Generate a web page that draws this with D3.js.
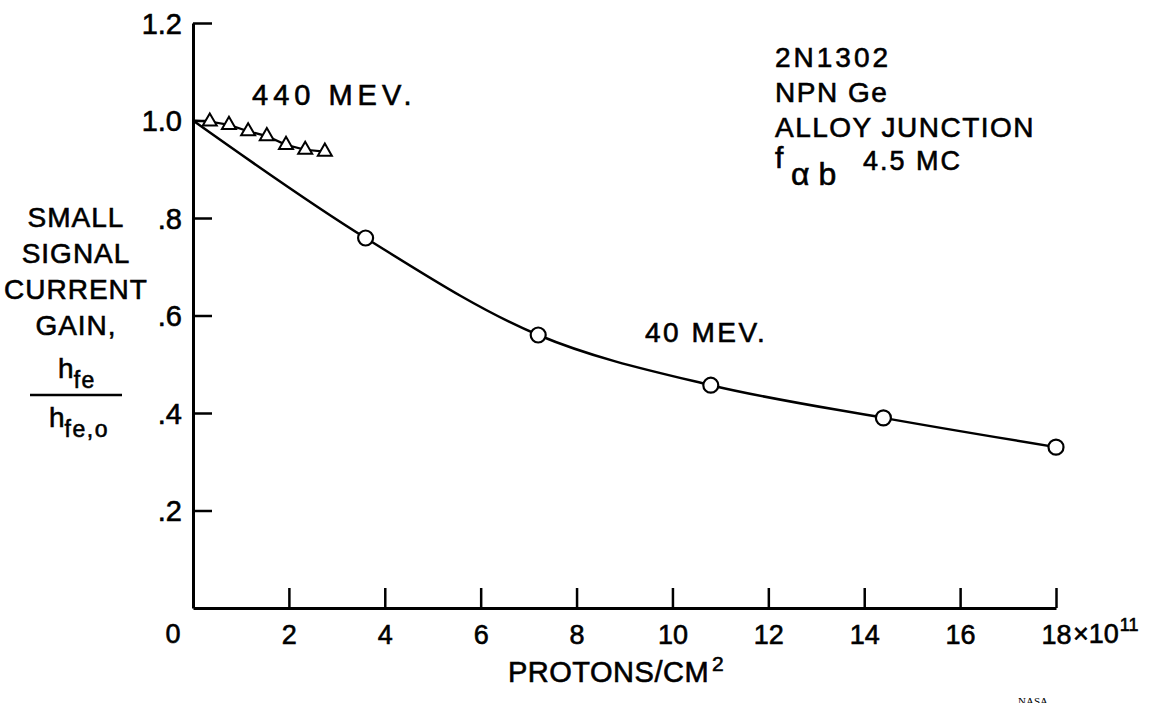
<!DOCTYPE html>
<html>
<head>
<meta charset="utf-8">
<script src="https://cdn.jsdelivr.net/npm/d3@7"></script>
<style>
  body { margin: 0; background: #fff; }
  svg { display: block; }
  text { font-family: "Liberation Sans", Arial, sans-serif; fill: #000; stroke: #000; stroke-width: 0.6px; }
</style>
</head>
<body>
<div id="chart-area"></div>
<script>
// 2N1302 small signal current gain vs proton fluence

var yTicks = [0.2, 0.4, 0.6, 0.8, 1.0, 1.2];
var yTickLabels = [".2", ".4", ".6", ".8", "1.0", "1.2"];
var xTicks = [2, 4, 6, 8, 10, 12, 14, 16, 18];
var xTickLabels = ["2", "4", "6", "8", "10", "12", "14", "16", "18"];

// curves start from the unirradiated point
var startPoint = [0, 1.0];

// 40 MeV (circles)
var mev40Flux = [3.6, 7.2, 10.8, 14.4, 18];
var mev40Gain = [0.759, 0.56, 0.457, 0.39, 0.33];

// 440 MeV (triangles)
var mev440Flux = [0.35, 0.75, 1.15, 1.54, 1.94, 2.34, 2.75];
var mev440Gain = [0.998, 0.991, 0.978, 0.968, 0.95, 0.94, 0.936];

var yLabelLines = ["SMALL", "SIGNAL", "CURRENT", "GAIN,"];
var noteLines = ["2N1302", "NPN Ge", "ALLOY JUNCTION"];

var margin = {top: 23, right: 105, bottom: 95, left: 193};
var width = 1161 - margin.left - margin.right;
var height = 703 - margin.top - margin.bottom;

var svg = d3.select("#chart-area")
    .append("svg")
    .attr("width", 1161)
    .attr("height", 703);

var g = svg.append("g")
    .attr("transform", "translate(" + margin.left + ", " + margin.top + ")");

var x = d3.scaleLinear().domain([0, 18]).range([0, width]);
var y = d3.scaleLinear().domain([0, 1.2]).range([height, 0]);

// left axis, ticks pointing inward
var yAxisCall = d3.axisLeft(y)
    .tickValues(yTicks)
    .tickSize(-19)
    .tickSizeOuter(0)
    .tickPadding(11)
    .tickFormat((d, i) => yTickLabels[i]);

var yAxis = g.append("g").attr("class", "left axis").call(yAxisCall);
yAxis.select(".domain").attr("stroke", "#000").attr("stroke-width", 3);
yAxis.selectAll(".tick line").attr("stroke", "#000").attr("stroke-width", 2.5);
yAxis.selectAll(".tick text")
    .attr("font-size", "29px")
    .attr("font-family", "Liberation Sans, Arial, sans-serif")
    .attr("dy", "0.36em");

// bottom axis
var xAxisCall = d3.axisBottom(x)
    .tickValues(xTicks)
    .tickSize(-20)
    .tickSizeOuter(0)
    .tickPadding(17)
    .tickFormat((d, i) => xTickLabels[i]);

var xAxis = g.append("g")
    .attr("class", "bottom axis")
    .attr("transform", "translate(0, " + height + ")")
    .call(xAxisCall);
xAxis.select(".domain").attr("stroke", "#000").attr("stroke-width", 3);
xAxis.selectAll(".tick line").attr("stroke", "#000").attr("stroke-width", 2.5);
xAxis.selectAll(".tick text")
    .attr("font-size", "27px")
    .attr("font-family", "Liberation Sans, Arial, sans-serif")
    .attr("dy", "0.71em");

// the shared zero
g.append("text")
    .attr("x", x(0) - 20)
    .attr("y", height + 35)
    .attr("font-size", "27px")
    .attr("text-anchor", "middle")
    .text("0");

// exponent after 18
var expo = g.append("text")
    .attr("x", x(18) + 17)
    .attr("y", height + 35)
    .attr("font-size", "27px");
expo.append("tspan").text("\u00d710");
expo.append("tspan").attr("font-size", "18px").attr("dy", "-12").attr("dx", 1).text("11");

// curves
var line = d3.line()
    .x((d) => x(d[0]))
    .y((d) => y(d[1]))
    .curve(d3.curveCatmullRom.alpha(0.5));

var mev40 = [startPoint].concat(mev40Flux.map((f, i) => [f, mev40Gain[i]]));
var mev440 = [startPoint].concat(mev440Flux.map((f, i) => [f, mev440Gain[i]]));

g.append("path")
    .datum(mev40)
    .attr("d", line)
    .attr("fill", "none")
    .attr("stroke", "#000")
    .attr("stroke-width", 2.5);

g.append("path")
    .datum(mev440)
    .attr("d", d3.line().x((d) => x(d[0])).y((d) => y(d[1])))
    .attr("fill", "none")
    .attr("stroke", "#000")
    .attr("stroke-width", 2.2);

g.selectAll("circle.m40")
    .data(mev40.slice(1))
    .enter()
    .append("circle")
        .attr("class", "m40")
        .attr("cx", (d) => x(d[0]))
        .attr("cy", (d) => y(d[1]))
        .attr("r", 7.5)
        .attr("fill", "#fff")
        .attr("stroke", "#000")
        .attr("stroke-width", 2.2);

g.selectAll("path.m440")
    .data(mev440.slice(1))
    .enter()
    .append("path")
        .attr("class", "m440")
        .attr("d", d3.symbol(d3.symbolTriangle, 85))
        .attr("transform", (d) => "translate(" + x(d[0]) + "," + y(d[1]) + ")")
        .attr("fill", "#fff")
        .attr("stroke", "#000")
        .attr("stroke-width", 2);

// curve labels
g.append("text")
    .attr("x", 59)
    .attr("y", 82)
    .attr("font-size", "29px")
    .attr("letter-spacing", "5px")
    .text("440 MEV.");

g.append("text")
    .attr("x", 452)
    .attr("y", 319)
    .attr("font-size", "28px")
    .attr("letter-spacing", "2.5px")
    .text("40 MEV.");

// device note, top right
var note = svg.append("g").attr("transform", "translate(775, 0)");
noteLines.forEach((t, i) => {
    note.append("text")
        .attr("x", 0)
        .attr("y", 67 + i * 35)
        .attr("font-size", "28px")
        .attr("letter-spacing", (i === 0) ? "3px" : "1.5px")
        .text(t);
});
note.append("text").attr("x", 0).attr("y", 168).attr("font-size", "30px").text("f");
note.append("text").attr("x", 16).attr("y", 185).attr("font-size", "32px")
    .attr("letter-spacing", "9px").text("\u03b1b");
note.append("text").attr("x", 88).attr("y", 170).attr("font-size", "27px")
    .attr("letter-spacing", "2px").text("4.5 MC");

// y axis label
var yl = svg.append("g").attr("class", "y axis-label");
yLabelLines.forEach((t, i) => {
    yl.append("text")
        .attr("x", 76)
        .attr("y", 227 + i * 36)
        .attr("font-size", "28px")
        .attr("text-anchor", "middle")
        .attr("letter-spacing", "1px")
        .text(t);
});
var num = yl.append("text").attr("x", 77).attr("y", 378).attr("text-anchor", "middle");
num.append("tspan").attr("font-size", "28px").text("h");
num.append("tspan").attr("font-size", "23px").attr("dy", 10).attr("letter-spacing", "1.5px").text("fe");
yl.append("line")
    .attr("x1", 30).attr("x2", 122)
    .attr("y1", 395).attr("y2", 395)
    .attr("stroke", "#000").attr("stroke-width", 2.5);
var den = yl.append("text").attr("x", 79).attr("y", 427).attr("text-anchor", "middle");
den.append("tspan").attr("font-size", "28px").text("h");
den.append("tspan").attr("font-size", "23px").attr("dy", 10).attr("letter-spacing", "1.5px").text("fe,o");

// x axis label
var xl = svg.append("text")
    .attr("class", "x axis-label")
    .attr("x", 508)
    .attr("y", 682)
    .attr("font-size", "29px")
    .attr("letter-spacing", "0.5px");
xl.append("tspan").text("PROTONS/CM");
xl.append("tspan").attr("font-size", "21px").attr("dy", -11).attr("dx", 3).text("2");

// source mark, cut by the page edge
svg.append("text")
    .attr("x", 1018)
    .attr("y", 705)
    .attr("font-size", "11px")
    .style("stroke-width", "0")
    .style("font-family", "Liberation Serif, serif")
    .text("NASA");
</script>
</body>
</html>
